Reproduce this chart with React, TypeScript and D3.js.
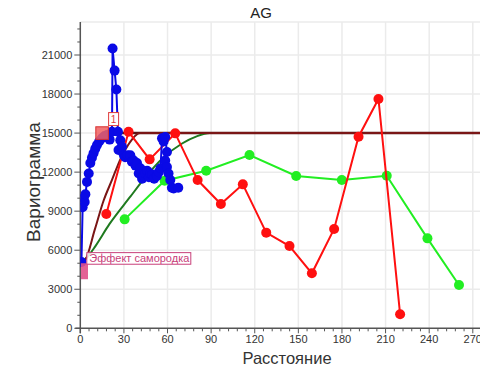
import React from "react";
import * as d3 from "d3";

const xTicks = [0, 30, 60, 90, 120, 150, 180, 210, 240, 270];
const yTicks = [0, 3000, 6000, 9000, 12000, 15000, 18000, 21000];

const blueH = [0.8, 1.6, 2.3, 3.0, 3.5, 4.6, 5.8, 6.9, 8.0, 9.1, 10.3, 11.5, 13.0, 14.9, 16.5, 18.4, 20.2, 21.8, 22.2, 23.6, 24.8, 25.9, 26.3, 27.5, 28.7, 30.0, 30.9, 32.5, 34.4, 35.5, 36.7, 38.0, 39.0, 40.2, 41.3, 42.5, 43.5, 44.7, 46.0, 47.2, 48.1, 49.5, 50.8, 52.7, 54.0, 55.2, 56.2, 57.3, 58.4, 59.6, 58.4, 59.6, 60.7, 61.9, 63.0, 64.2, 67.4];
const blueV = [5100, 9300, 10000, 9700, 10300, 11250, 11900, 12700, 13100, 13450, 13800, 14080, 14350, 14600, 14750, 14850, 14500, 15100, 21500, 19800, 18350, 15100, 13700, 14450, 13950, 13300, 13150, 13300, 13300, 12800, 12900, 12500, 12700, 11900, 12300, 11500, 11700, 11900, 12100, 11600, 11900, 11800, 11500, 11700, 12000, 12300, 14600, 14350, 14700, 13550, 12900, 12400, 11900, 11400, 10800, 10750, 10800];

const redH = [17.9, 33.2, 47.7, 65.3, 80.7, 96.7, 111.8, 127.9, 143.9, 159.3, 174.6, 191.4, 205.1, 220.0];
const redV = [8780, 15100, 12980, 14980, 11390, 9550, 11060, 7350, 6320, 4225, 7630, 14720, 17620, 1075];

const greenH = [30.5, 58.0, 86.6, 116.4, 148.5, 179.9, 210.8, 238.8, 260.5];
const greenV = [8370, 11340, 12110, 13310, 11700, 11390, 11720, 6910, 3330];

// model curves
const brownH = [0, 3.4, 10, 16, 21.8, 28, 33, 37.8, 41, 275];
const brownV = [5000, 5250, 7600, 9800, 11400, 13100, 14100, 14800, 15000, 15000];
const dgreenH = [0, 5, 10.3, 20, 34.4, 43.3, 57, 70, 80, 89, 275];
const dgreenV = [5000, 5500, 6300, 8000, 10110, 11400, 13100, 14200, 14750, 15000, 15000];

const nugget = 5000;
const sillH = 15;
const sill = 15000;

const W = 480, H = 370;
const top = 22, bottom = 328.3, left = 80.3;

export default function App() {
  const x = d3.scaleLinear().domain([0, 270]).range([left, 472.8]);
  const y = d3.scaleLinear().domain([0, 21000]).range([bottom, 55]);
  const xMinor = d3.range(0, 276, 6).filter((v) => v % 30 !== 0);
  const yMinor = d3.range(0, 23600, 1000).filter((v) => v % 3000 !== 0);

  const pts = (hs: number[], vs: number[]) => hs.map((h, i) => [h, vs[i]] as [number, number]);
  const line = d3.line<[number, number]>().x((d) => x(d[0])).y((d) => y(d[1]));
  const smooth = d3.line<[number, number]>().x((d) => x(d[0])).y((d) => y(d[1])).curve(d3.curveMonotoneX);

  const blue = pts(blueH, blueV);
  const red = pts(redH, redV);
  const green = pts(greenH, greenV);
  const brown = pts(brownH, brownV);
  const dgreen = pts(dgreenH, dgreenV);

  const font = "'Liberation Sans', Arial, sans-serif";
  const blueC = "#0a0ae6";
  const redC = "#ff1010";
  const greenC = "#22ee22";
  const dgreenC = "#1f7a1f";
  const brownC = "#7a1616";
  const pinkC = "#c8407a";

  return (
    <svg width={W} height={H} style={{ position: "absolute", left: 0, top: 0 }} fontFamily={font}>
      <rect x={0} y={0} width={W} height={H} fill="#fff" />
      <defs>
        <clipPath id="plot">
          <rect x={left} y={top - 6} width={W - left} height={bottom - top + 6} />
        </clipPath>
      </defs>
      {/* grid */}
      {xTicks.filter((t) => t > 0).map((t) => (
        <line key={"gx" + t} x1={x(t)} x2={x(t)} y1={top} y2={bottom} stroke="#ebebeb" strokeWidth={1.5} />
      ))}
      {yTicks.filter((t) => t > 0).map((t) => (
        <line key={"gy" + t} x1={left} x2={W} y1={y(t)} y2={y(t)} stroke="#ebebeb" strokeWidth={1.5} />
      ))}
      <line x1={left} x2={W} y1={top} y2={top} stroke="#ebebeb" strokeWidth={1.5} />

      {/* axes */}
      <line x1={left} x2={left} y1={top} y2={bottom + 5} stroke="#555" strokeWidth={1.5} />
      <line x1={left - 5} x2={W} y1={bottom} y2={bottom} stroke="#555" strokeWidth={1.5} />
      {yTicks.map((t) => (
        <g key={"yt" + t}>
          <line x1={left - 6} x2={left} y1={y(t)} y2={y(t)} stroke="#555" />
          <text x={left - 8} y={y(t)} dy="0.35em" textAnchor="end" fontSize={11} fill="#333">{t}</text>
        </g>
      ))}
      {yMinor.map((t) => (
        <line key={"ym" + t} x1={left - 3} x2={left} y1={y(t)} y2={y(t)} stroke="#555" />
      ))}
      {xTicks.map((t) => (
        <g key={"xt" + t}>
          <line x1={x(t)} x2={x(t)} y1={bottom} y2={bottom + 5} stroke="#555" />
          <text x={x(t)} y={bottom + 15} textAnchor="middle" fontSize={11} fill="#333">{t}</text>
        </g>
      ))}
      {xMinor.map((t) => (
        <line key={"xm" + t} x1={x(t)} x2={x(t)} y1={bottom} y2={bottom + 3} stroke="#555" />
      ))}

      <text x={261} y={18} textAnchor="middle" fontSize={15} fill="#222">AG</text>
      <text x={287} y={364} textAnchor="middle" fontSize={16.5} fill="#333">Расстояние</text>
      <text transform={`translate(40,182) rotate(-90)`} textAnchor="middle" fontSize={19} fill="#333">Вариограмма</text>

      <g clipPath="url(#plot)">
        {/* sill line */}
        <line x1={x(sillH)} x2={W} y1={y(sill)} y2={y(sill)} stroke="#5a1414" strokeWidth={2.5} />
        <path d={smooth(dgreen) || ""} fill="none" stroke={dgreenC} strokeWidth={2} />
        <path d={smooth(brown) || ""} fill="none" stroke={brownC} strokeWidth={2} />

        <path d={line(green) || ""} fill="none" stroke={greenC} strokeWidth={2} />
        {green.map((d, i) => <circle key={"g" + i} cx={x(d[0])} cy={y(d[1])} r={5} fill={greenC} />)}

        <path d={line(red) || ""} fill="none" stroke={redC} strokeWidth={2} />
        {red.map((d, i) => <circle key={"r" + i} cx={x(d[0])} cy={y(d[1])} r={5} fill={redC} />)}

        <path d={line(blue) || ""} fill="none" stroke={blueC} strokeWidth={2} />
        {blue.map((d, i) => <circle key={"b" + i} cx={x(d[0])} cy={y(d[1])} r={5} fill={blueC} />)}

        {/* sill handle */}
        <rect x={x(sillH) - 6.3} y={y(sill) - 6.3} width={12.6} height={12.6} fill="#f06060" fillOpacity={0.85} stroke="#d83030" />
        <rect x={x(sillH) + 6.5} y={y(sill) - 20.5} width={10} height={13} fill="#fff" stroke="#e03a3a" />
        <text x={x(sillH) + 11.5} y={y(sill) - 10} textAnchor="middle" fontSize={10} fill="#e03a3a">1</text>

        {/* nugget handle */}
        <rect x={left + 0.7} y={y(nugget)} width={7} height={16} fill="#e0508a" fillOpacity={0.9} />
        <rect x={left + 6.5} y={y(nugget) - 10.6} width={104} height={11.6} fill="#fff" fillOpacity={0.85} stroke={pinkC} />
        <text x={left + 9} y={y(nugget) - 1.5} fontSize={11} fill={pinkC}>Эффект самородка</text>
      </g>
    </svg>
  );
}
